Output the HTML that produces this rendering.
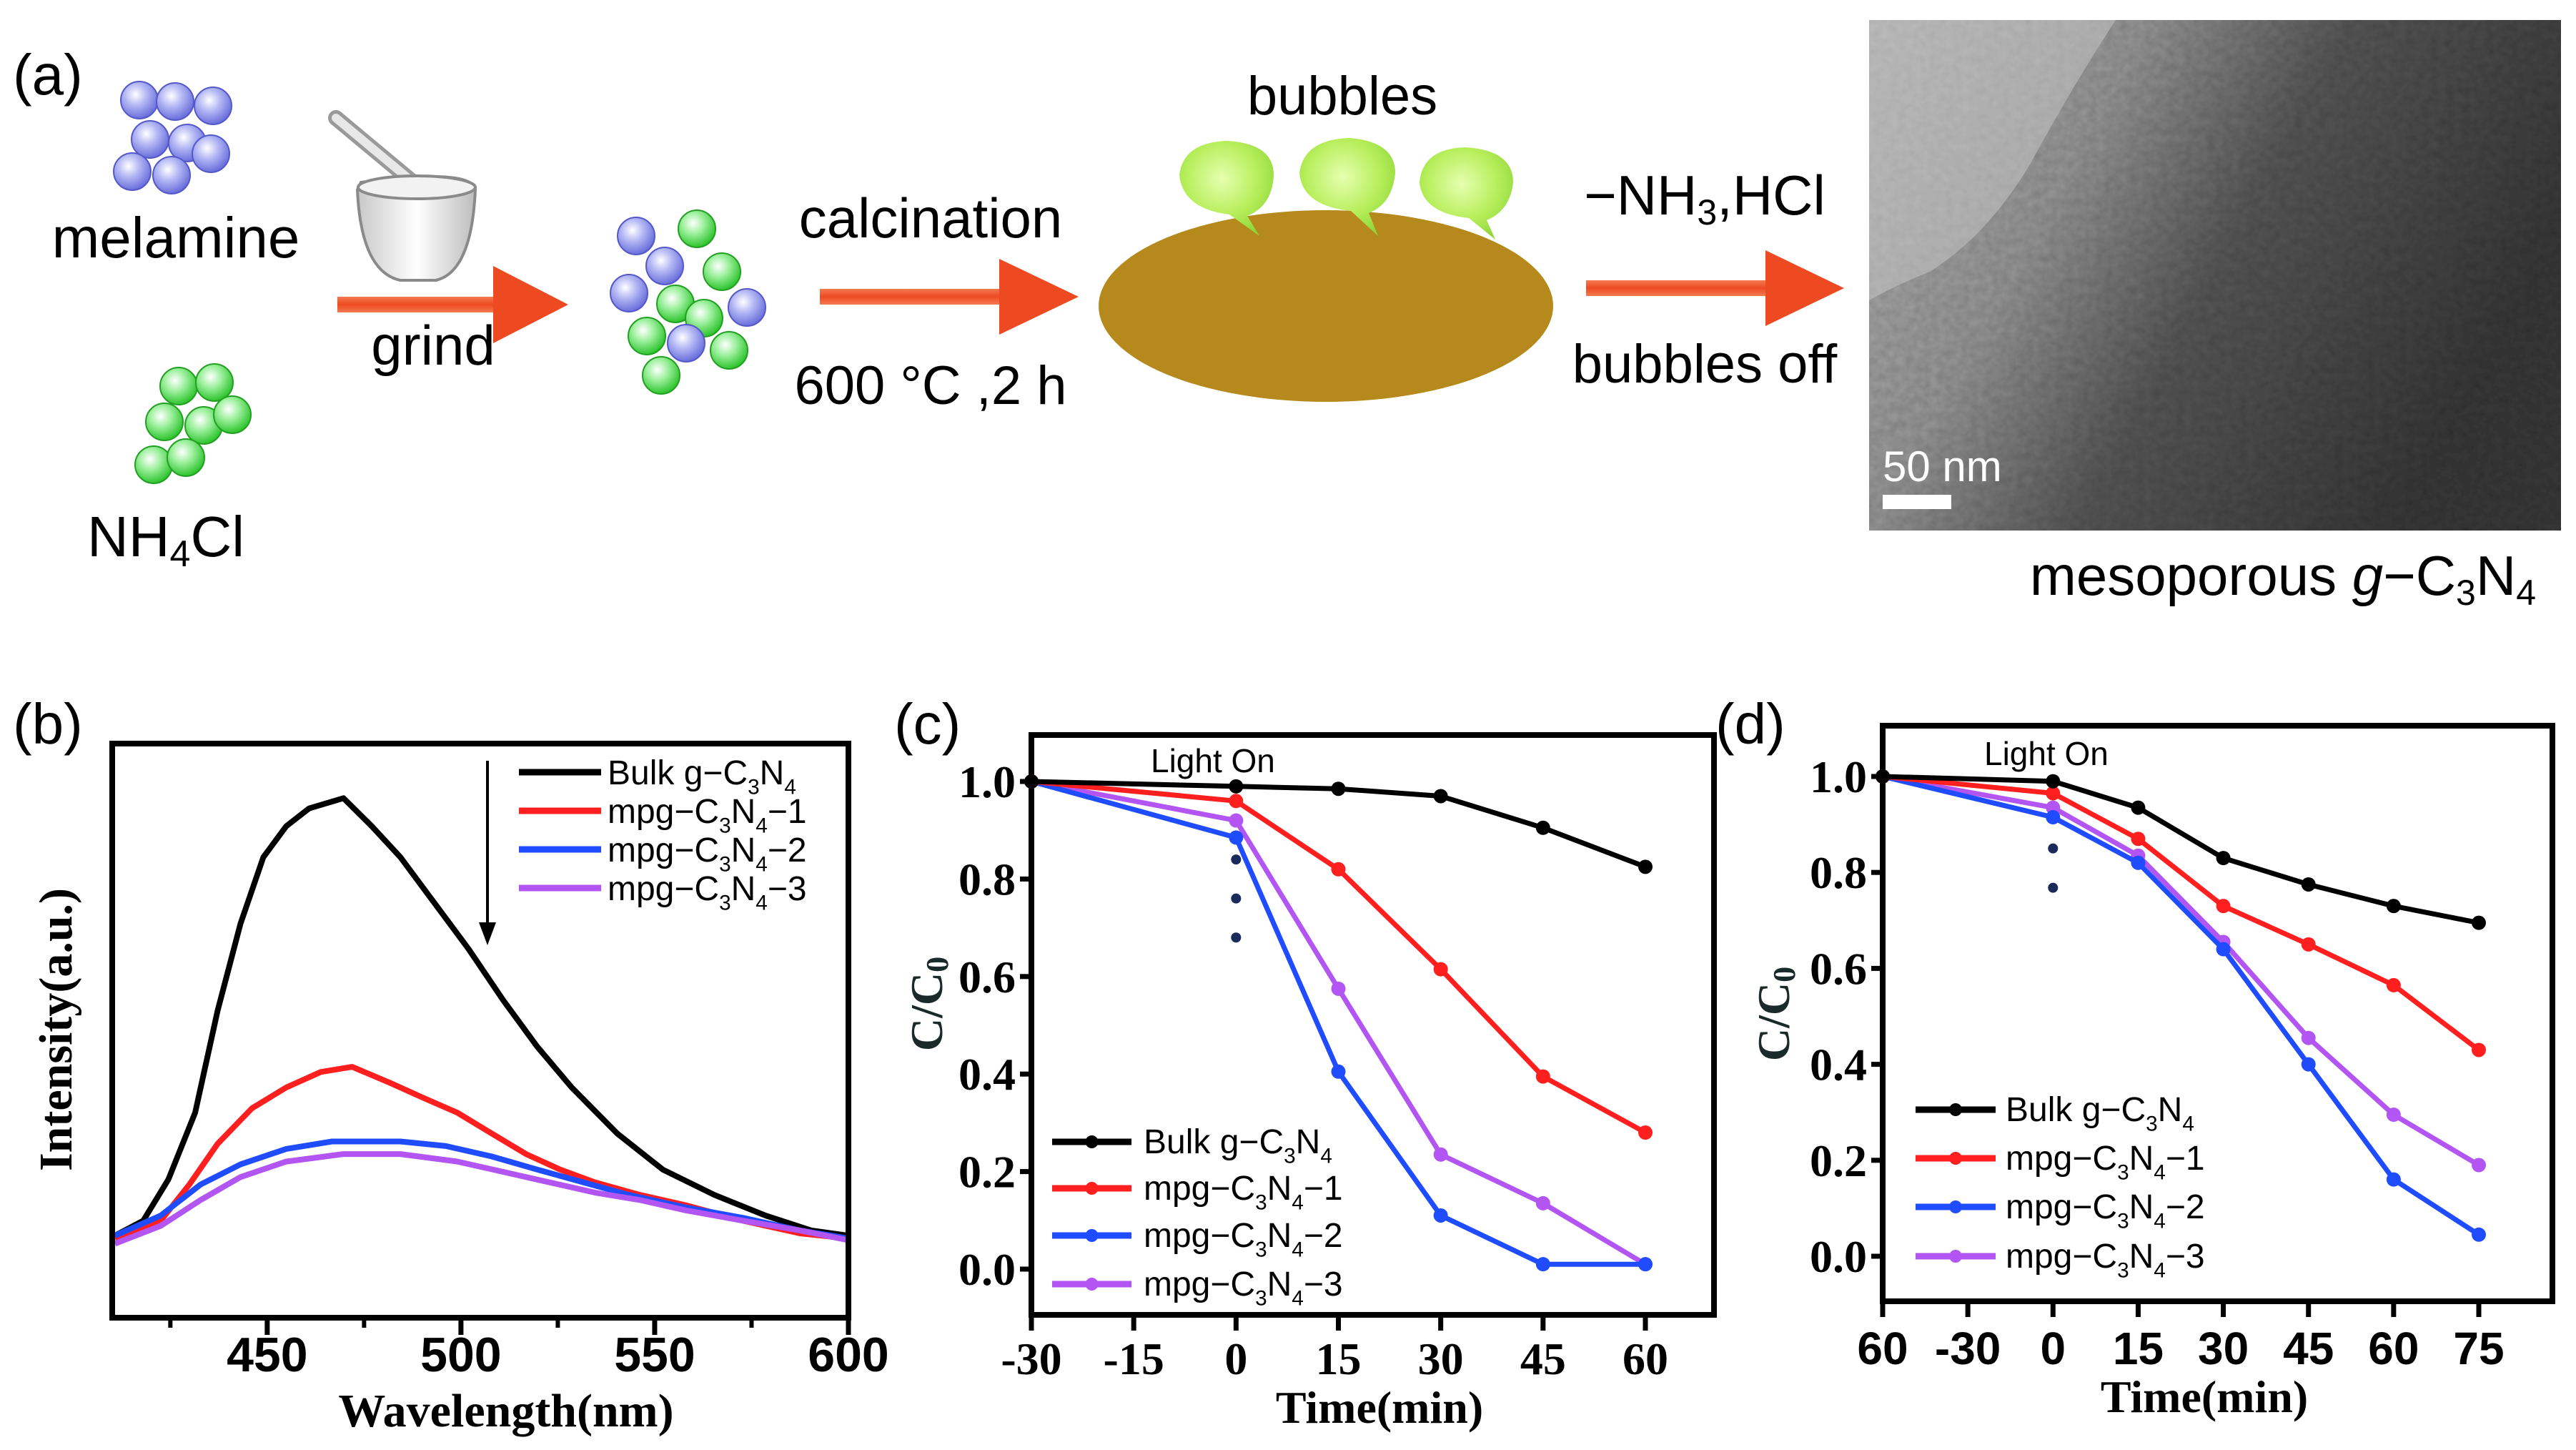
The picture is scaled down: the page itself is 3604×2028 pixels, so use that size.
<!DOCTYPE html>
<html><head><meta charset="utf-8"><style>
html,body{margin:0;padding:0;background:#fff}
svg{display:block}
.sans{font-family:"Liberation Sans",Arial,sans-serif}
.serif{font-family:"Liberation Serif","Times New Roman",serif}
</style></head><body>
<svg id="fig" width="3604" height="2028" viewBox="0 0 3604 2028" xmlns="http://www.w3.org/2000/svg">
<defs>
<radialGradient id="gBlue" cx="40%" cy="35%" r="65%"><stop offset="0" stop-color="#ffffff"/><stop offset="0.45" stop-color="#b4b8f4"/><stop offset="1" stop-color="#6a6fdc"/></radialGradient>
<radialGradient id="gGreen" cx="40%" cy="35%" r="65%"><stop offset="0" stop-color="#ffffff"/><stop offset="0.45" stop-color="#9cf09c"/><stop offset="1" stop-color="#2ec42e"/></radialGradient>
<radialGradient id="gBub" cx="45%" cy="40%" r="65%"><stop offset="0" stop-color="#e6ffb0"/><stop offset="0.6" stop-color="#b6ee5a"/><stop offset="1" stop-color="#8fd63a"/></radialGradient>
<linearGradient id="gArrow" x1="0" y1="0" x2="0" y2="1"><stop offset="0" stop-color="#f47a50"/><stop offset="0.5" stop-color="#ee4a22"/><stop offset="1" stop-color="#f47a50"/></linearGradient>
<linearGradient id="gTem" x1="0" y1="0" x2="1" y2="0.4"><stop offset="0" stop-color="#b8b8b8"/><stop offset="0.35" stop-color="#9a9a9a"/><stop offset="0.6" stop-color="#5a5a5a"/><stop offset="1" stop-color="#3a3a3a"/></linearGradient>
<filter id="noise" x="0" y="0" width="100%" height="100%"><feTurbulence type="fractalNoise" baseFrequency="0.09" numOctaves="2" seed="3"/><feColorMatrix type="saturate" values="0"/><feComponentTransfer><feFuncA type="linear" slope="0" intercept="0.45"/></feComponentTransfer><feBlend in2="SourceGraphic" mode="multiply"/></filter>
<linearGradient id="gBowl" x1="0" y1="0" x2="1" y2="0"><stop offset="0" stop-color="#c8c8c8"/><stop offset="0.5" stop-color="#ffffff"/><stop offset="1" stop-color="#bdbdbd"/></linearGradient>
</defs>

<!-- Panel (a) schematic -->
<g id="panel-a">
<text x="18" y="132" class="sans" font-size="80">(a)</text>
<g stroke="#5558c8" stroke-width="2">
<circle cx="195" cy="140" r="26" fill="url(#gBlue)"/><circle cx="245" cy="142" r="26" fill="url(#gBlue)"/><circle cx="298" cy="148" r="26" fill="url(#gBlue)"/>
<circle cx="210" cy="195" r="26" fill="url(#gBlue)"/><circle cx="262" cy="200" r="26" fill="url(#gBlue)"/><circle cx="295" cy="215" r="26" fill="url(#gBlue)"/>
<circle cx="185" cy="240" r="26" fill="url(#gBlue)"/><circle cx="240" cy="245" r="26" fill="url(#gBlue)"/>
</g>
<text x="246" y="360" text-anchor="middle" class="sans" font-size="80">melamine</text>
<g stroke="#22a022" stroke-width="2">
<circle cx="250" cy="540" r="26" fill="url(#gGreen)"/><circle cx="300" cy="535" r="26" fill="url(#gGreen)"/>
<circle cx="230" cy="590" r="26" fill="url(#gGreen)"/><circle cx="285" cy="595" r="26" fill="url(#gGreen)"/><circle cx="325" cy="580" r="26" fill="url(#gGreen)"/>
<circle cx="215" cy="650" r="26" fill="url(#gGreen)"/><circle cx="260" cy="640" r="26" fill="url(#gGreen)"/>
</g>
<text x="122" y="778" class="sans" font-size="80">NH<tspan font-size="52" dy="14">4</tspan><tspan dy="-14">Cl</tspan></text>
<g>
<line x1="470" y1="165" x2="590" y2="265" stroke="#9a9a9a" stroke-width="22" stroke-linecap="round"/>
<line x1="470" y1="165" x2="590" y2="265" stroke="#e8e8e8" stroke-width="12" stroke-linecap="round"/>
<path d="M505 255 Q660 235 665 265 Q660 380 610 392 L560 392 Q505 380 500 265 Z" fill="url(#gBowl)" stroke="#8a8a8a" stroke-width="4"/>
<ellipse cx="583" cy="262" rx="82" ry="16" fill="#f2f2f2" stroke="#8a8a8a" stroke-width="4"/>
</g>
<g><rect x="472" y="415" width="230" height="22" fill="url(#gArrow)"/><polygon points="690,372 795,426 690,480" fill="#ee4a22"/></g>
<text x="606" y="510" text-anchor="middle" class="sans" font-size="78">grind</text>
<g stroke-width="2">
<circle cx="975" cy="320" r="26" fill="url(#gGreen)" stroke="#22a022"/><circle cx="890" cy="330" r="26" fill="url(#gBlue)" stroke="#5558c8"/>
<circle cx="930" cy="372" r="26" fill="url(#gBlue)" stroke="#5558c8"/><circle cx="1010" cy="380" r="26" fill="url(#gGreen)" stroke="#22a022"/>
<circle cx="880" cy="410" r="26" fill="url(#gBlue)" stroke="#5558c8"/><circle cx="945" cy="425" r="26" fill="url(#gGreen)" stroke="#22a022"/>
<circle cx="1045" cy="430" r="26" fill="url(#gBlue)" stroke="#5558c8"/><circle cx="985" cy="445" r="26" fill="url(#gGreen)" stroke="#22a022"/>
<circle cx="905" cy="470" r="26" fill="url(#gGreen)" stroke="#22a022"/><circle cx="960" cy="480" r="26" fill="url(#gBlue)" stroke="#5558c8"/>
<circle cx="1020" cy="490" r="26" fill="url(#gGreen)" stroke="#22a022"/><circle cx="925" cy="525" r="26" fill="url(#gGreen)" stroke="#22a022"/>
</g>
<text x="1302" y="332" text-anchor="middle" class="sans" font-size="78">calcination</text>
<g><rect x="1147" y="404" width="260" height="22" fill="url(#gArrow)"/><polygon points="1398,362 1509,415 1398,468" fill="#ee4a22"/></g>
<text x="1302" y="565" text-anchor="middle" class="sans" font-size="76">600 °C ,2 h</text>
<text x="1878" y="160" text-anchor="middle" class="sans" font-size="76">bubbles</text>
<ellipse cx="1855" cy="428" rx="318" ry="134" fill="#b5891b"/>
<g fill="url(#gBub)" transform="translate(0,30)">
<path d="M1720 270 Q1655 262 1650 215 Q1655 170 1715 167 Q1782 170 1782 215 Q1780 258 1745 272 L1762 300 Z"/>
<path d="M1890 265 Q1822 258 1818 212 Q1824 165 1888 163 Q1952 168 1952 212 Q1948 255 1915 268 L1928 300 Z"/>
<path d="M2055 275 Q1990 268 1986 225 Q1990 178 2050 176 Q2117 180 2117 225 Q2113 264 2080 278 L2092 305 Z"/>
</g>
<text x="2385" y="300" text-anchor="middle" class="sans" font-size="78">−NH<tspan font-size="50" dy="14">3</tspan><tspan dy="-14">,HCl</tspan></text>
<g><rect x="2219" y="392" width="262" height="22" fill="url(#gArrow)"/><polygon points="2470,350 2580,403 2470,456" fill="#ee4a22"/></g>
<text x="2385" y="535" text-anchor="middle" class="sans" font-size="76">bubbles off</text>
<g>
<rect x="2615" y="28" width="968" height="714" fill="url(#gTem)" filter="url(#noise)"/>
<path d="M2615 28 L2960 28 Q2900 120 2840 230 Q2780 330 2700 380 Q2650 400 2615 420 Z" fill="#c4c4c4" opacity="0.55"/>
<text x="2634" y="673" class="sans" font-size="60" fill="#fff">50 nm</text>
<rect x="2634" y="692" width="96" height="20" fill="#fff"/>
</g>
<text x="3548" y="832" text-anchor="end" class="sans" font-size="78">mesoporous <tspan font-style="italic">g</tspan>−C<tspan font-size="50" dy="14">3</tspan><tspan dy="-14">N</tspan><tspan font-size="50" dy="14">4</tspan></text>
</g>

<g id="panel-b"></g>
<g id="panel-c"></g>
<g id="panel-d"></g>
</svg>
<script>
// ---------- Panel (b) data ----------
const bTicks = [450, 500, 550, 600];
const bMinorTicks = [425, 475, 525, 575];
const bBulkX = [410.7,418,424.5,431.4,437.2,443.1,449,454.9,460.8,469.7,477,484.4,493.2,502,510.9,519.7,528.6,540.3,552.1,565.4,578.6,590.4,600];
const bBulkY = [0.143,0.169,0.241,0.357,0.535,0.686,0.802,0.856,0.887,0.905,0.856,0.802,0.722,0.642,0.553,0.472,0.401,0.321,0.258,0.214,0.178,0.152,0.143];
const bMpg1X = [410.7,422.5,429.9,437.2,446.1,454.9,463.8,471.9,481.4,490.3,499.1,507.9,516.8,525.6,534.5,546.2,558,572.8,587.5,600];
const bMpg1Y = [0.138,0.169,0.232,0.303,0.365,0.401,0.428,0.437,0.41,0.383,0.357,0.321,0.285,0.258,0.236,0.214,0.196,0.169,0.147,0.138];
const bMpg2X = [410.7,422.5,432.8,443.1,454.9,466.7,484.4,496.1,507.9,519.7,531.5,543.3,558,572.8,587.5,600];
const bMpg2Y = [0.143,0.178,0.232,0.267,0.294,0.307,0.307,0.299,0.281,0.258,0.236,0.214,0.192,0.174,0.152,0.138];
const bMpg3X = [410.7,422.5,432.8,443.1,454.9,469.6,484.4,499.1,510.9,522.7,534.5,546.2,558,572.8,587.5,600];
const bMpg3Y = [0.129,0.160,0.205,0.245,0.272,0.285,0.285,0.272,0.254,0.236,0.218,0.205,0.187,0.169,0.152,0.135];

// ---------- Panel (c) data ----------
const cTimes = [-30, 0, 15, 30, 45, 60];
const cTickLabels = ["-30","-15","0","15","30","45","60"];
const cTickValues = [-30,-15,0,15,30,45,60];
const cBulk = [1.0, 0.99, 0.985, 0.97, 0.905, 0.825];
const cMpg1 = [1.0, 0.96, 0.82, 0.615, 0.395, 0.28];
const cMpg2 = [1.0, 0.885, 0.405, 0.11, 0.01, 0.01];
const cMpg3 = [1.0, 0.92, 0.575, 0.235, 0.135, 0.01];
const cDots = [0.92, 0.84, 0.76, 0.68];

// ---------- Panel (d) data ----------
const dTickLabels = ["60","-30","0","15","30","45","60","75"];
const dPointIdx = [0, 2, 3, 4, 5, 6, 7];
const dBulk = [1.0, 0.99, 0.935, 0.83, 0.775, 0.73, 0.695];
const dMpg1 = [1.0, 0.965, 0.87, 0.73, 0.65, 0.565, 0.43];
const dMpg2 = [1.0, 0.915, 0.82, 0.64, 0.40, 0.16, 0.045];
const dMpg3 = [1.0, 0.935, 0.835, 0.655, 0.455, 0.295, 0.19];
const dDots = [0.933, 0.85, 0.768];

const yTickVals = [0.0, 0.2, 0.4, 0.6, 0.8, 1.0];
const seriesNames = ["Bulk g−C3N4", "mpg−C3N4−1", "mpg−C3N4−2", "mpg−C3N4−3"];

const NS = "http://www.w3.org/2000/svg";
const COLORS = ["#000000", "#ff1f1f", "#1f4cff", "#b255f2"];
function mk(tag, attrs, parent) {
  const e = document.createElementNS(NS, tag);
  for (const k in attrs) e.setAttribute(k, attrs[k]);
  parent.appendChild(e);
  return e;
}
function legendText(parent, x, y, idx, size) {
  const t = mk("text", {x: x, y: y, "font-size": size, "font-family": "Liberation Sans, Arial, sans-serif"}, parent);
  
  
  const sub = size * 0.62, dy = size * 0.28;
  const pre = idx === 0 ? "Bulk g−C" : "mpg−C";
  const post = idx === 0 ? "" : "−" + idx;
  t.innerHTML = pre + '<tspan font-size="' + sub + '" dy="' + dy + '">3</tspan><tspan dy="' + (-dy) + '">N</tspan><tspan font-size="' + sub + '" dy="' + dy + '">4</tspan><tspan dy="' + (-dy) + '">' + post + '</tspan>';
  return t;
}

// ---------- Draw panel (b) ----------
(function () {
  const g = document.getElementById("panel-b");
  const L = 157, R = 1187, T = 1040, B = 1843;
  const xs = v => L + (v - 410) / 190 * (R - L);
  const ys = v => B - v * (B - T);
  let lab = mk("text", {x: 18, y: 1040, "font-size": 80, class: "sans"}, g);
  
  
  lab.textContent = "(b)";
  const series = [[bBulkX, bBulkY], [bMpg1X, bMpg1Y], [bMpg2X, bMpg2Y], [bMpg3X, bMpg3Y]];
  const names = ["curve-bulk", "curve-mpg-1", "curve-mpg-2", "curve-mpg-3"];
  series.forEach((s, i) => {
    const pts = s[0].map((x, j) => xs(x).toFixed(1) + "," + ys(s[1][j]).toFixed(1)).join(" ");
    const p = mk("polyline", {points: pts, fill: "none", stroke: COLORS[i], "stroke-width": 8, "stroke-linejoin": "round"}, g);
    
    
  });
  const fr = mk("rect", {x: L, y: T, width: R - L, height: B - T, fill: "none", stroke: "#000", "stroke-width": 8}, g);
  
  
  bTicks.forEach(v => {
    const tk = mk("line", {x1: xs(v), y1: B, x2: xs(v), y2: B + 24, stroke: "#000", "stroke-width": 7}, g);
    
    
    const t = mk("text", {x: xs(v), y: 1918, "text-anchor": "middle", "font-size": 68, "font-weight": "bold", class: "sans"}, g);
    
    
    t.textContent = v;
  });
  bMinorTicks.forEach(v => {
    const tk = mk("line", {x1: xs(v), y1: B, x2: xs(v), y2: B + 14, stroke: "#000", "stroke-width": 6}, g);
    
    
  });
  let xt = mk("text", {x: 708, y: 1995, "text-anchor": "middle", "font-size": 66, "font-weight": "bold", class: "serif"}, g);
  
  
  xt.textContent = "Wavelength(nm)";
  let yt = mk("text", {x: 0, y: 0, transform: "translate(100,1440) rotate(-90)", "text-anchor": "middle", "font-size": 66, "font-weight": "bold", class: "serif"}, g);
  
  
  yt.textContent = "Intensity(a.u.)";
  const ar = mk("line", {x1: 682, y1: 1064, x2: 682, y2: 1300, stroke: "#000", "stroke-width": 4}, g);
  
  
  const ah = mk("polygon", {points: "670,1290 694,1290 682,1322", fill: "#000"}, g);
  
  
  const rows = [1080, 1134, 1188, 1242];
  rows.forEach((y, i) => {
    const l = mk("line", {x1: 726, y1: y, x2: 841, y2: y, stroke: COLORS[i], "stroke-width": 9}, g);
    
    
    legendText(g, 850, y + 17, i, 48);
  });
})();

// ---------- Shared degradation panel ----------
function drawDeg(g, cfg) {
  const {L, R, T, B, y0, y1, xs, xTicks, xLabels, series, xIdx, dots, dotX, label, labelX, lightX, lightY, leg, tickFont, tickFam, yTitleX, yTitleY, xTitleX, xTitleY, xLabY} = cfg;
  const ys = v => y0 + (y1 - y0) * v;
  let lab = mk("text", {x: labelX, y: 1040, "font-size": 80, class: "sans"}, g);
  
  
  lab.textContent = label;
  const fr = mk("rect", {x: L, y: T, width: R - L, height: B - T, fill: "none", stroke: "#000", "stroke-width": 8}, g);
  
  
  yTickVals.forEach(v => {
    const tk = mk("line", {x1: L - 16, y1: ys(v), x2: L, y2: ys(v), stroke: "#000", "stroke-width": 7}, g);
    
    
    const t = mk("text", {x: L - 22, y: ys(v) + 22, "text-anchor": "end", "font-size": 64, "font-weight": "bold", class: "serif"}, g);
    
    
    t.textContent = v.toFixed(1);
  });
  xTicks.forEach((v, i) => {
    const tk = mk("line", {x1: xs(v), y1: B, x2: xs(v), y2: B + 22, stroke: "#000", "stroke-width": 7}, g);
    
    
    const t = mk("text", {x: xs(v), y: xLabY, "text-anchor": "middle", "font-size": tickFont, "font-weight": "bold", class: tickFam}, g);
    
    
    t.textContent = xLabels[i];
  });
  let xt = mk("text", {x: xTitleX, y: xTitleY, "text-anchor": "middle", "font-size": 64, "font-weight": "bold", class: "serif"}, g);
  
  
  xt.textContent = "Time(min)";
  let yt = mk("text", {x: 0, y: 0, transform: "translate(" + yTitleX + "," + yTitleY + ") rotate(-90)", "text-anchor": "middle", "font-size": 64, "font-weight": "bold", class: "serif", fill: "#1a2a2a"}, g);
  
  
  yt.innerHTML = 'C/C<tspan font-size="44" dy="8">0</tspan>';
  dots.forEach(v => {
    const d = mk("circle", {cx: dotX, cy: ys(v), r: 7, fill: "#1a2a5a"}, g);
    
    
  });
  const names = ["line-bulk", "line-mpg-1", "line-mpg-2", "line-mpg-3"];
  [3, 2, 1, 0].forEach(i => {
    const vals = series[i];
    const pts = vals.map((v, j) => xs(xIdx[j]).toFixed(1) + "," + ys(v).toFixed(1)).join(" ");
    const p = mk("polyline", {points: pts, fill: "none", stroke: COLORS[i], "stroke-width": 7, "stroke-linejoin": "round"}, g);
    
    
    vals.forEach((v, j) => {
      const m = mk("circle", {cx: xs(xIdx[j]), cy: ys(v), r: 10, fill: COLORS[i]}, g);
      
      
    });
  });
  let lo = mk("text", {x: lightX, y: lightY, "font-size": 46, class: "sans"}, g);
  
  
  lo.textContent = "Light On";
  leg.rows.forEach((y, i) => {
    const l = mk("line", {x1: leg.x1, y1: y, x2: leg.x2, y2: y, stroke: COLORS[i], "stroke-width": 9}, g);
    
    
    const m = mk("circle", {cx: (leg.x1 + leg.x2) / 2, cy: y, r: 9, fill: COLORS[i]}, g);
    
    
    legendText(g, leg.tx, y + 16, i, 48);
  });
}

// Panel (c)
(function () {
  const L = 1443, R = 2398, x0 = 1443, x60 = 2302;
  const xs = v => x0 + (v + 30) / 90 * (x60 - x0);
  drawDeg(document.getElementById("panel-c"), {
    L: L, R: R, T: 1028, B: 1839, y0: 1775, y1: 1093, xs: xs,
    xTicks: cTickValues, xLabels: cTickLabels, series: [cBulk, cMpg1, cMpg2, cMpg3], xIdx: cTimes,
    dots: cDots, dotX: xs(0), label: "(c)", labelX: 1251, lightX: 1610, lightY: 1080,
    leg: {x1: 1472, x2: 1583, tx: 1600, rows: [1597, 1662, 1728, 1796]},
    tickFont: 64, tickFam: "serif", yTitleX: 1318, yTitleY: 1404, xTitleX: 1930, xTitleY: 1990, xLabY: 1922
  });
})();

// Panel (d)
(function () {
  const L = 2634, R = 3571, p0 = 2634, p7 = 3468;
  const xs = i => p0 + i / 7 * (p7 - p0);
  drawDeg(document.getElementById("panel-d"), {
    L: L, R: R, T: 1015, B: 1820, y0: 1757, y1: 1086, xs: xs,
    xTicks: dTickLabels.map((_, i) => i), xLabels: dTickLabels, series: [dBulk, dMpg1, dMpg2, dMpg3], xIdx: dPointIdx,
    dots: dDots, dotX: xs(2), label: "(d)", labelX: 2400, lightX: 2776, lightY: 1070,
    leg: {x1: 2680, x2: 2792, tx: 2806, rows: [1552, 1620, 1688, 1757]},
    tickFont: 64, tickFam: "sans", yTitleX: 2503, yTitleY: 1418, xTitleX: 3084, xTitleY: 1975, xLabY: 1908
  });
})();
</script>
</body></html>
